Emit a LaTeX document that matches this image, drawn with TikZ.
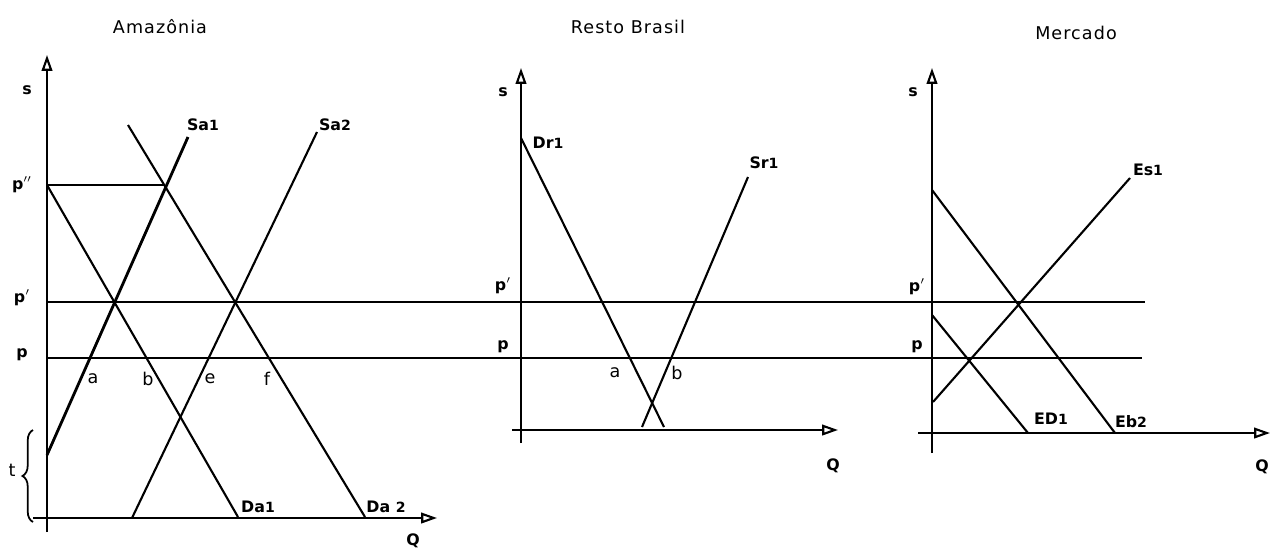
\documentclass[tikz,border=0pt]{standalone}
\usepackage{fontspec}
\setmainfont{DejaVu Sans}
\newfontfamily\lettering[LetterSpace=6]{DejaVu Sans}
\usetikzlibrary{arrows.meta,decorations.pathreplacing}

\begin{document}
\begin{tikzpicture}[
    x=0.02cm, y=-0.02cm,
    curve/.style={line width=1.2pt, black},
    axis/.style={line width=1.2pt, -{Triangle[open, length=9pt, width=6pt]}},
    title/.style={font=\lettering\normalsize},
    tag/.style={font=\small\bfseries, inner sep=1pt},
    pt/.style={font=\normalsize, inner sep=1pt},
]
\useasboundingbox (0,0) rectangle (1271,549);

% Titles
\node[title] (tamaz) at (160,27) {Amazônia};
\node[title] (tresto) at (628,27) {Resto Brasil};
\node[title] (tmerc) at (1076,33) {Mercado};

% Price lines p' and p, across all three panels
\draw[curve] (47,302) -- (1145,302);
\draw[curve] (47,358) -- (1142,358);

% Amazonia
\draw[axis] (47,532) -- (47,55);
\draw[axis] (33,518) -- (437,518);
\node[tag] (as) at (27,90) {s};
\node[tag] (aq) at (413,541) {Q};
\node[tag] (app) at (22,185) {p$''$};
\node[tag] (ap1) at (22,298) {p$'$};
\node[tag] (ap0) at (22,355) {p};
\draw[curve] (47,185) -- (165,185);
\draw[curve, line width=1.6pt] (47,455) -- (188,137);
\draw[curve] (47,185) -- (238,517);
\draw[curve] (128,125) -- (365,517);
\draw[curve] (132,518) -- (317,132);
\node[tag] (sa1) at (203,125) {Sa{\footnotesize 1}};
\node[tag] (sa2) at (335,125) {Sa{\footnotesize 2}};
\node[tag] (da1) at (258,507) {Da{\footnotesize 1}};
\node[tag] (da2) at (386,507) {Da {\footnotesize 2}};
\node[pt] (pa) at (93,379) {a};
\node[pt] (pb) at (148,379) {b};
\node[pt] (pe) at (210,379) {e};
\node[pt] (pf) at (267,379) {f};
\draw[line width=1pt, decorate, decoration={brace, amplitude=6pt}] (33,522) -- (33,430);
\node[pt] (at) at (12,470) {t};

% Resto Brasil
\draw[axis] (521,443) -- (521,68);
\draw[axis] (512,430) -- (838,430);
\node[tag] (rs) at (503,92) {s};
\node[tag] (rq) at (833,466) {Q};
\node[tag] (rp1) at (503,286) {p$'$};
\node[tag] (rp0) at (503,347) {p};
\draw[curve] (521,138) -- (664,427);
\draw[curve] (642,427) -- (748,177);
\node[tag] (dr1) at (548,143) {Dr{\footnotesize 1}};
\node[tag] (sr1) at (764,163) {Sr{\footnotesize 1}};
\node[pt] (ra) at (615,373) {a};
\node[pt] (rb) at (677,373) {b};

% Mercado
\draw[axis] (932,453) -- (932,68);
\draw[axis] (918,433) -- (1270,433);
\node[tag] (ms) at (913,92) {s};
\node[tag] (mq) at (1262,467) {Q};
\node[tag] (mp1) at (917,287) {p$'$};
\node[tag] (mp0) at (917,347) {p};
\draw[curve] (932,190) -- (1115,433);
\draw[curve] (932,315) -- (1028,433);
\draw[curve] (933,402) -- (1130,178);
\node[tag] (es1) at (1148,170) {Es{\footnotesize 1}};
\node[tag] (ed1) at (1051,419) {ED{\footnotesize 1}};
\node[tag] (eb2) at (1131,422) {Eb{\footnotesize 2}};

\end{tikzpicture}
\end{document}
